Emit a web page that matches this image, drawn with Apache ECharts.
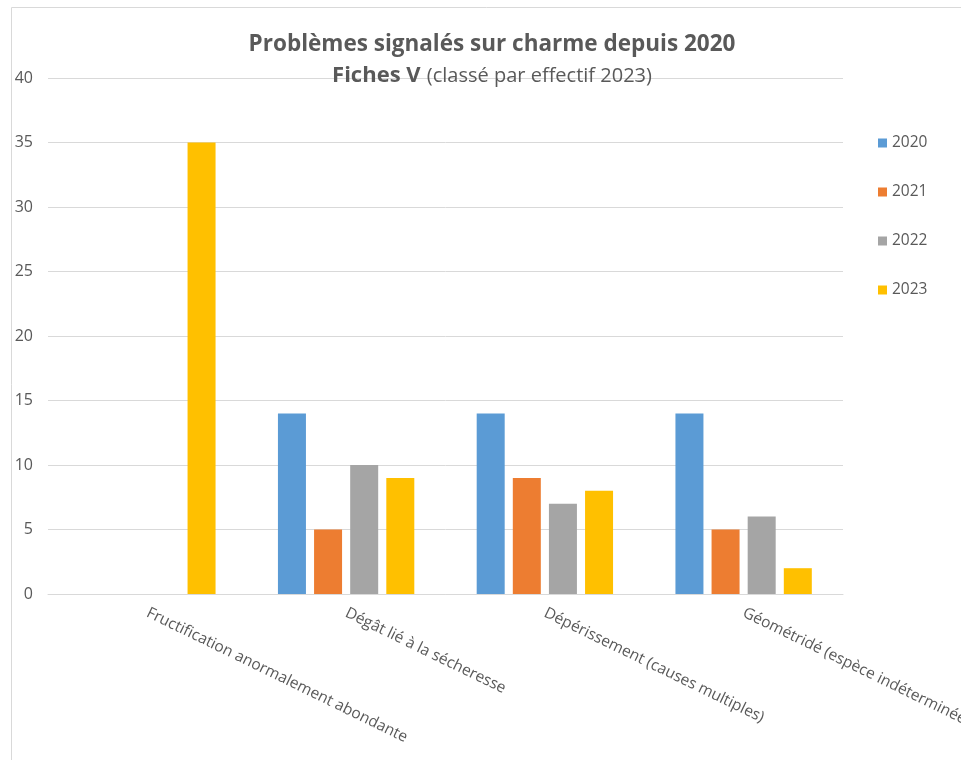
<!DOCTYPE html>
<html><head><meta charset="utf-8">
<script src="https://cdn.jsdelivr.net/npm/echarts@6/dist/echarts.min.js"></script>
<style>html,body{margin:0;padding:0;background:#fff}#c{width:961px;height:760px}</style>
</head><body><div id="c"></div>
<script>
const categories = ["Fructification anormalement abondante","Dégât lié à la sécheresse","Dépérissement (causes multiples)","Géométridé (espèce indéterminée)"];
const seriesNames = ["2020","2021","2022","2023"];
const v2020 = [0, 14, 14, 14];
const v2021 = [0, 5, 9, 5];
const v2022 = [0, 10, 7, 6];
const v2023 = [35, 9, 8, 2];
const colors = ["#5B9BD5","#ED7D31","#A5A5A5","#FFC000"];
const values = [v2020, v2021, v2022, v2023];
const font = "'Open Sans', 'Liberation Sans', sans-serif";
const chart = echarts.init(document.getElementById('c'));
chart.setOption({
  animation:false,
  textStyle:{fontFamily:font},
  graphic:[{type:'rect',shape:{x:11.5,y:7.5,width:1000,height:800},style:{fill:'none',stroke:'#d9d9d9',lineWidth:1},silent:true}],
  title:{
    text:'Problèmes signalés sur charme depuis 2020',
    subtext:'{b|Fiches V}  {n|(classé par effectif 2023)}',
    left:487, textAlign:'center', top:28, itemGap:9,
    textStyle:{fontFamily:font,fontSize:22.5,fontWeight:'bold',color:'#595959'},
    subtextStyle:{rich:{b:{fontFamily:font,fontSize:22,fontWeight:'bold',color:'#595959'},n:{fontFamily:font,fontSize:20,color:'#595959'}}}
  },
  legend:{orient:'vertical',left:873,top:130,itemWidth:9,itemHeight:9,itemGap:33,icon:'rect',
    textStyle:{fontFamily:font,fontSize:15.5,color:'#595959'},data:seriesNames},
  grid:{left:48,right:118,top:78,bottom:166,outerBoundsMode:'none',containLabel:false},
  xAxis:{type:'category',data:categories,
    axisLine:{lineStyle:{color:'#d9d9d9'}},axisTick:{show:false},
    axisLabel:{rotate:-26,fontFamily:font,fontSize:15.5,color:'#595959',margin:18,interval:0}},
  yAxis:{type:'value',min:0,max:40,interval:5,
    axisLine:{show:false},axisTick:{show:false},
    splitLine:{lineStyle:{color:'#d9d9d9'}},
    axisLabel:{fontFamily:font,fontSize:16,color:'#595959',margin:15,align:'right'}},
  series: seriesNames.map((n,i)=>({name:n,type:'bar',data:values[i],barWidth:28,barGap:'29%',itemStyle:{color:colors[i]}}))
});
</script></body></html>
